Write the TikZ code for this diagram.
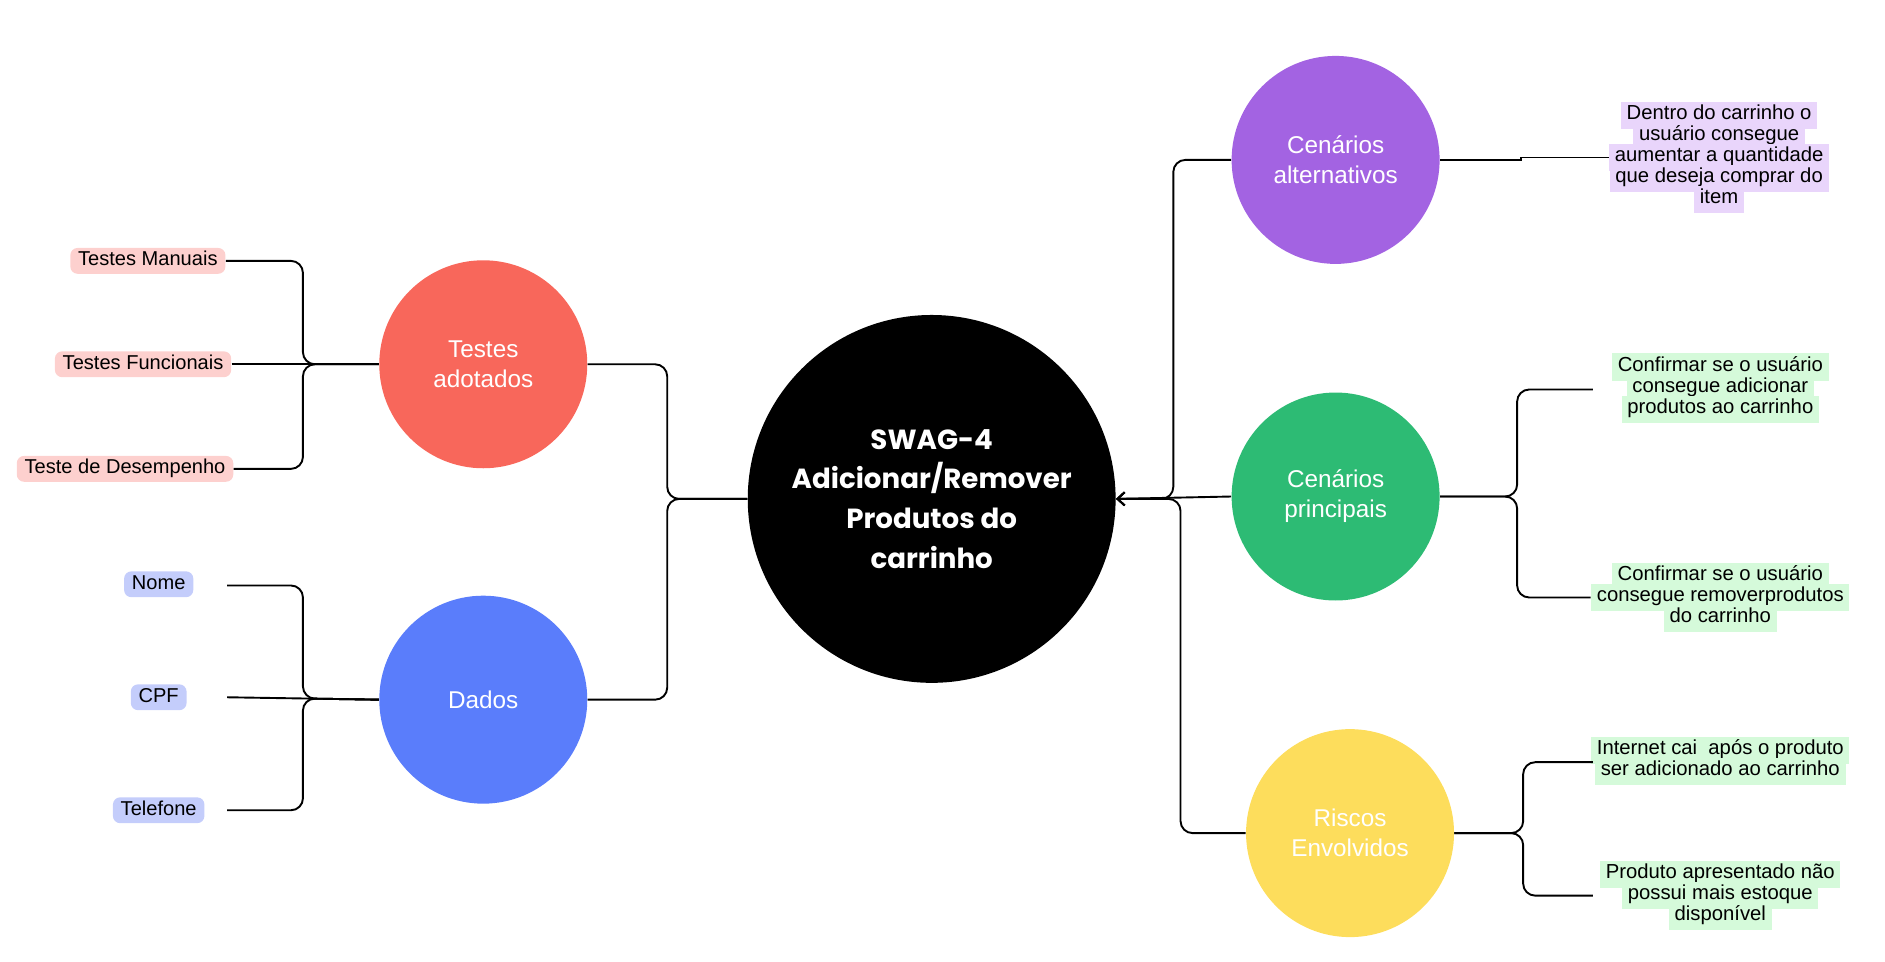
\documentclass[tikz,border=0pt]{standalone}
\usepackage{fontspec}
\setmainfont{Liberation Sans}
\newfontfamily\titlefont{Poppins}
\usetikzlibrary{arrows.meta}

\definecolor{testred}{HTML}{F8675B}
\definecolor{dadosblue}{HTML}{5A7DFB}
\definecolor{altpurple}{HTML}{A363E2}
\definecolor{princgreen}{HTML}{2DBB74}
\definecolor{riscoyellow}{HTML}{FDDD5C}
\definecolor{pinkleaf}{HTML}{FDD0CE}
\definecolor{blueleaf}{HTML}{C4CDFB}
\definecolor{lilacleaf}{HTML}{E9D5FB}
\definecolor{greenleaf}{HTML}{D5FADA}

\setlength{\fboxsep}{1.5pt}
\newcommand{\hl}[2]{\colorbox{#1}{\hspace{1.2pt}\strut #2\hspace{1.2pt}}}
\newcommand{\tightlines}{\lineskiplimit=-20pt\relax}

\tikzset{
	bubble/.style={circle, inner sep=0pt, minimum size=34.6mm, text=white, align=center, font=\fontsize{11.5}{14.2}\selectfont},
	leaf/.style={rounded corners=1.2mm, inner xsep=1.3mm, inner ysep=0.6mm, text height=2.4mm, text depth=0.7mm, font=\fontsize{9.5}{10}\selectfont},
	note/.style={align=center, inner sep=0pt, font=\fontsize{9.6}{10}\selectfont, execute at begin node=\tightlines},
	link/.style={draw, line width=0.9pt, rounded corners=2mm},
	tohub/.style={link, -{Straight Barb[length=1.2mm, width=2.2mm]}}
}

\begin{document}
\begin{tikzpicture}[x=0.2mm, y=-0.2mm]
	\useasboundingbox (0,0) rectangle (1568,800);

	\node[bubble, fill=black, minimum size=61.2mm, font=\titlefont\bfseries\fontsize{13.1}{18.8}\selectfont] (swag) at (775,415) {SWAG-4\\Adicionar/Remover\\Produtos do\\carrinho};

	\node[bubble, fill=testred] (testes) at (402,303) {Testes\\adotados};
	\node[bubble, fill=dadosblue] (dados) at (402,582) {Dados};
	\node[bubble, fill=altpurple] (alt) at (1111,133) {Cenários\\alternativos};
	\node[bubble, fill=princgreen] (princ) at (1111,413) {Cenários\\principais};
	\node[bubble, fill=riscoyellow] (riscos) at (1123,693) {Riscos\\Envolvidos};

	\node[leaf, fill=pinkleaf] (manuais) at (123,217) {Testes Manuais};
	\node[leaf, fill=pinkleaf] (funcionais) at (119,303) {Testes Funcionais};
	\node[leaf, fill=pinkleaf] (desempenho) at (104,390) {Teste de Desempenho};

	\node[leaf, fill=blueleaf] (nome) at (132,486) {Nome};
	\node[leaf, fill=blueleaf] (cpf) at (132,580) {CPF};
	\node[leaf, fill=blueleaf] (telefone) at (132,674) {Telefone};

	\node[note] (aumentar) at (1430,131) {\hl{lilacleaf}{Dentro do carrinho o}\\\hl{lilacleaf}{usuário consegue}\\\hl{lilacleaf}{aumentar a quantidade}\\\hl{lilacleaf}{que deseja comprar do}\\\hl{lilacleaf}{item}};
	\node[note] (adicionar) at (1431,323) {\hl{greenleaf}{Confirmar se o usuário}\\\hl{greenleaf}{consegue adicionar}\\\hl{greenleaf}{produtos ao carrinho}};
	\node[note] (remover) at (1431,497) {\hl{greenleaf}{Confirmar se o usuário}\\\hl{greenleaf}{consegue removerprodutos}\\\hl{greenleaf}{do carrinho}};
	\node[note] (internet) at (1431,633) {\hl{greenleaf}{Internet cai\ \ após o produto}\\\hl{greenleaf}{ser adicionado ao carrinho}};
	\node[note] (estoque) at (1431,745) {\hl{greenleaf}{Produto apresentado não}\\\hl{greenleaf}{possui mais estoque}\\\hl{greenleaf}{disponível}};

	\coordinate (nome-end) at (189,487);
	\coordinate (cpf-end) at (189,580);
	\coordinate (telefone-end) at (189,674);
	\coordinate (adicionar-end) at (1325,324);
	\coordinate (internet-end) at (1325,634);
	\coordinate (estoque-end) at (1325,745);

	\draw[link] (manuais.east) -- (252,217) -- (252,303) -- (testes.west);
	\draw[link] (funcionais.east) -- (testes.west);
	\draw[link] (desempenho.east) -- (252,390) -- (252,303) -- (testes.west);

	\draw[link] (nome-end) -- (252,487) -- (252,581) -- (dados.west);
	\draw[link] (cpf-end) -- (dados.west);
	\draw[link] (telefone-end) -- (252,674) -- (252,581) -- (dados.west);

	\draw[link] (testes.east) -- (555,303) -- (555,415) -- (swag.west);
	\draw[link] (dados.east) -- (555,582) -- (555,415) -- (swag.west);

	\draw[tohub] (alt.west) -- (976,133) -- (976,415) -- (swag.east);
	\draw[tohub] (princ.west) -- (swag.east);
	\draw[tohub] (riscos.west) -- (982,693) -- (982,415) -- (swag.east);

	\draw[link, sharp corners] (alt.east) -- (1265,133) -- (1265,131) -- (aumentar.west);
	\draw[link] (princ.east) -- (1262,413) -- (1262,324) -- (adicionar-end);
	\draw[link] (princ.east) -- (1262,413) -- (1262,497) -- (remover.west);
	\draw[link] (riscos.east) -- (1267,693) -- (1267,634) -- (internet-end);
	\draw[link] (riscos.east) -- (1267,693) -- (1267,745) -- (estoque-end);
\end{tikzpicture}
\end{document}
